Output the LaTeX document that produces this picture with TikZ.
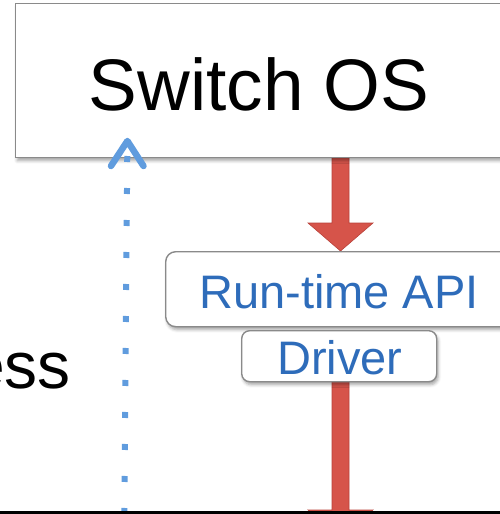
\documentclass[tikz,border=0pt]{standalone}
\usepackage{fontspec}
\setmainfont{Liberation Sans}
\usetikzlibrary{shadows.blur}

\definecolor{boxgray}{RGB}{138,138,138}
\definecolor{textblue}{RGB}{46,108,186}
\definecolor{dotblue}{RGB}{96,156,222}
\definecolor{arrowred}{RGB}{214,84,74}
\definecolor{arrowedge}{RGB}{184,66,58}

\tikzset{
  boxshadow/.style={blur shadow={shadow xshift=1.5pt, shadow yshift=-3pt,
      shadow blur radius=3pt, shadow opacity=35}},
  osbox/.style={draw=boxgray, line width=1.4pt, fill=white, rectangle,
      inner sep=0pt, anchor=north west, boxshadow},
  roundbox/.style={draw=boxgray, line width=1.4pt, fill=white, rectangle,
      inner sep=0pt, anchor=north west, boxshadow},
  bigtext/.style={font=\fontsize{73}{80}\selectfont, inner sep=0pt},
  bluetext/.style={font=\fontsize{47}{54}\selectfont, text=textblue, inner sep=0pt},
  redarrow/.style={fill=arrowred, draw=arrowedge, line width=0.6pt, line join=miter},
  dotline/.style={draw=dotblue, line width=6pt, dash pattern=on 6pt off 26pt,
      dash phase=17pt},
  chevron/.style={draw=dotblue, line width=6.5pt, line cap=round, line join=round}
}

\begin{document}
\begin{tikzpicture}[x=1pt, y=-1pt]
\useasboundingbox (0,0) rectangle (500,514);
\clip (0,0) rectangle (500,514);

% red block arrows (drawn first so the boxes cover their ends)
\draw[redarrow] (332,156) -- (349,156) -- (349,223) -- (373,223) -- (340.5,251)
  -- (308,223) -- (332,223) -- cycle;
\draw[redarrow] (332,380) -- (349,380) -- (349,510) -- (373,510) -- (340.5,538)
  -- (308,510) -- (332,510) -- cycle;

% boxes
\node[osbox, minimum width=495pt, minimum height=154pt] (os) at (15,3) {};
\node[roundbox, rounded corners=10pt, minimum width=360pt, minimum height=75pt]
  (api) at (165,251) {};
\node[roundbox, rounded corners=8pt, minimum width=195pt, minimum height=51pt]
  (drv) at (241,330) {};

% labels
\node[bigtext, anchor=base] (ostext) at (259,110) {Switch OS};
\node[bluetext, anchor=base] (apitext) at (339,308) {Run-time API};
\node[bluetext, anchor=base] (drvtext) at (340,374) {Driver};
\node[bigtext, font=\fontsize{66}{72}\selectfont, anchor=base east] (ess) at (71,388) {ess};

% dotted blue arrow going up into the OS box
\coordinate (dotTop) at (127.4,141);
\coordinate (dotBot) at (124.2,530);
\draw[dotline] (dotTop) -- (dotBot);
\draw[chevron] (111,166) -- (dotTop) -- (143.5,166);

% bottom rule
\draw[line width=3pt, black] (0,512.5) -- (500,512.5);
\end{tikzpicture}
\end{document}
